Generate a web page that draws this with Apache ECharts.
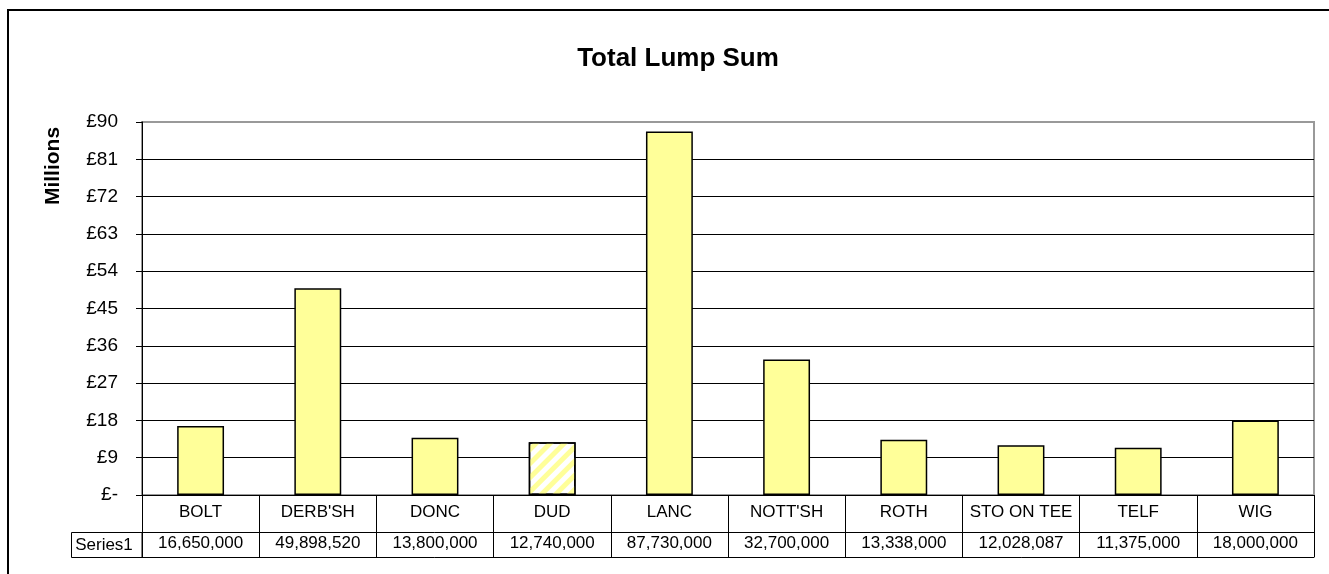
<!DOCTYPE html>
<html>
<head>
<meta charset="utf-8">
<script src="https://cdn.jsdelivr.net/npm/echarts@6/dist/echarts.min.js"></script>
<style>
  html, body { margin: 0; padding: 0; background: #fff; }
  #main { width: 1329px; height: 574px; }
</style>
</head>
<body>
<div id="main"></div>
<script>
// data
var categories = ["BOLT", "DERB'SH", "DONC", "DUD", "LANC", "NOTT'SH", "ROTH", "STO ON TEE", "TELF", "WIG"];
var lumpSum = [16650000, 49898520, 13800000, 12740000, 87730000, 32700000, 13338000, 12028087, 11375000, 18000000];
var hatched = ["DUD"];
var yTicks = [0, 9, 18, 27, 36, 45, 54, 63, 72, 81, 90];

var myChart = echarts.init(document.getElementById('main'));
var font = 'Liberation Sans, Arial, sans-serif';

function fmt(n) {
    return n.toString().replace(/\B(?=(\d{3})+(?!\d))/g, ",");
}

var barData = lumpSum.map(function (v, i) {
    var item = { value: v / 1000000 };
    if (hatched.indexOf(categories[i]) >= 0) {
        item.itemStyle = {
            color: '#ffffff',
            decal: {
                symbol: 'rect',
                color: '#FFFF99',
                dashArrayX: [1, 0],
                dashArrayY: [5, 5],
                rotation: -Math.PI / 4
            }
        };
    }
    return item;
});

// gridlines black, the top one grey like the plot frame
var gridColors = yTicks.map(function (t, i) { return i === yTicks.length - 1 ? '#999999' : '#000000'; });

var option = {
    animation: false,
    backgroundColor: '#ffffff',
    title: {
        text: 'Total Lump Sum',
        left: 673,
        top: 41,
        textAlign: 'center',
        textStyle: { fontFamily: font, fontSize: 26, fontWeight: 'bold', color: '#000' }
    },
    grid: {
        left: 142, right: 15, top: 122, bottom: 79,
        show: true, borderColor: '#999999', borderWidth: 2, backgroundColor: 'transparent'
    },
    xAxis: [
        {
            type: 'category',
            data: categories,
            position: 'bottom',
            boundaryGap: true,
            axisLine: { lineStyle: { color: '#000', width: 1 } },
            axisTick: { show: true, length: 62, lineStyle: { color: '#000', width: 1 } },
            axisLabel: { fontFamily: font, fontSize: 17, color: '#000', margin: 9, interval: 0 },
            splitLine: { show: false }
        },
        {
            type: 'category',
            data: lumpSum.map(fmt),
            position: 'bottom',
            offset: 37,
            boundaryGap: true,
            axisLine: { lineStyle: { color: '#000', width: 1 } },
            axisTick: { show: false },
            axisLabel: { fontFamily: font, fontSize: 17, color: '#000', margin: 3, interval: 0 },
            splitLine: { show: false }
        },
        {
            type: 'category',
            data: categories,
            position: 'bottom',
            offset: 62,
            axisLine: { lineStyle: { color: '#000', width: 1 } },
            axisTick: { show: false },
            axisLabel: { show: false },
            splitLine: { show: false }
        }
    ],
    yAxis: {
        type: 'value',
        min: yTicks[0],
        max: yTicks[yTicks.length - 1],
        interval: yTicks[1] - yTicks[0],
        axisLine: { show: true, lineStyle: { color: '#000', width: 1 } },
        axisTick: { show: true, length: 6, lineStyle: { color: '#000' } },
        axisLabel: {
            fontFamily: font, fontSize: 19, color: '#000', margin: 24,
            formatter: function (v) { return v === 0 ? '£-' : '£' + v; }
        },
        splitLine: { show: true, lineStyle: { color: gridColors, width: 1 } }
    },
    series: [{
        name: 'Series1',
        type: 'bar',
        data: barData,
        barWidth: '40%',
        itemStyle: { color: '#FFFF99', borderColor: '#000', borderWidth: 1.5 }
    }],
    graphic: [
        {
            type: 'rect',
            shape: { x: 8, y: 10, width: 1330, height: 600 },
            style: { fill: 'none', stroke: '#000', lineWidth: 2 },
            silent: true
        },
        {
            type: 'text',
            x: 53, y: 166,
            rotation: Math.PI / 2,
            style: {
                text: 'Millions', fontFamily: font, fontSize: 21, fontWeight: 'bold',
                fill: '#000', align: 'center', verticalAlign: 'middle'
            }
        },
        {
            type: 'rect',
            shape: { x: 71.5, y: 532.5, width: 70.5, height: 25 },
            style: { fill: 'none', stroke: '#000', lineWidth: 1 }
        },
        {
            type: 'text',
            x: 104, y: 545,
            style: {
                text: 'Series1', fontFamily: font, fontSize: 17,
                fill: '#000', align: 'center', verticalAlign: 'middle'
            }
        }
    ]
};
myChart.setOption(option);
</script>
</body>
</html>
